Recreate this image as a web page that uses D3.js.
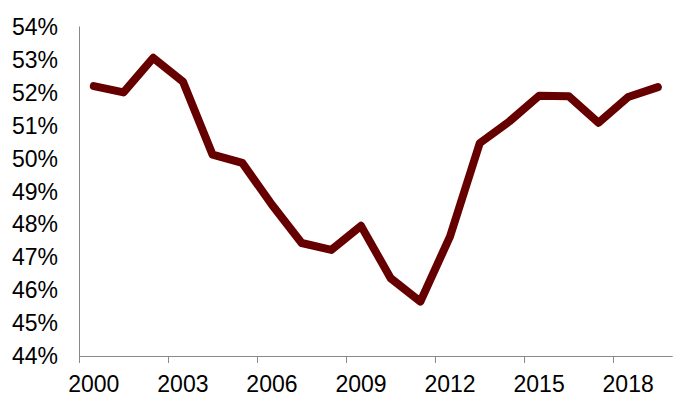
<!DOCTYPE html>
<html>
<head>
<meta charset="utf-8">
<script src="https://cdn.jsdelivr.net/npm/d3@7"></script>
<style>
  html, body { margin: 0; padding: 0; background: #fff; }
  svg { display: block; }
  text { font-family: "Liberation Sans", Arial, sans-serif; fill: #000; }
</style>
</head>
<body>
<svg id="chart" width="685" height="407"></svg>
<script>
const years = ["2000","2001","2002","2003","2004","2005","2006","2007","2008","2009",
               "2010","2011","2012","2013","2014","2015","2016","2017","2018","2019"];
const values = [52.19, 52.00, 53.05, 52.33, 50.11, 49.86, 48.59, 47.43, 47.22, 47.95,
                46.36, 45.65, 47.63, 50.46, 51.12, 51.90, 51.88, 51.08, 51.86, 52.16];
const yTicks = [44, 45, 46, 47, 48, 49, 50, 51, 52, 53, 54];
const xLabelYears = ["2000","2003","2006","2009","2012","2015","2018"];

(function () {
const svg = d3.select("#chart");
const mLeft = 79, mRight = 672.7, mTop = 26.5, mBottom = 356;

const x = d3.scaleBand().domain(years).range([mLeft, mRight]).padding(0);
const y = d3.scaleLinear().domain([44, 54]).range([mBottom, mTop]);

const axisColor = "#898989";

// y axis line
svg.append("line")
  .attr("x1", mLeft + 0.5).attr("x2", mLeft + 0.5)
  .attr("y1", mTop).attr("y2", mBottom + 7)
  .attr("stroke", axisColor).attr("stroke-width", 1);

// x axis line
svg.append("line")
  .attr("x1", mLeft).attr("x2", mRight)
  .attr("y1", mBottom + 0.5).attr("y2", mBottom + 0.5)
  .attr("stroke", axisColor).attr("stroke-width", 1);

// x tick marks at band boundaries every 3 categories
svg.selectAll(".xtick")
  .data(xLabelYears)
  .enter().append("line")
  .attr("x1", d => Math.round(x(d)) + 0.5)
  .attr("x2", d => Math.round(x(d)) + 0.5)
  .attr("y1", mBottom).attr("y2", mBottom + 7)
  .attr("stroke", axisColor).attr("stroke-width", 1);

// x labels
svg.selectAll(".xlabel")
  .data(xLabelYears)
  .enter().append("text")
  .attr("x", d => x(d) + x.bandwidth() / 2)
  .attr("y", 392)
  .attr("text-anchor", "middle")
  .attr("font-size", "23px")
  .text(d => d);

// y labels
svg.selectAll(".ylabel")
  .data(yTicks)
  .enter().append("text")
  .attr("x", 58)
  .attr("y", d => y(d))
  .attr("dy", "0.36em")
  .attr("text-anchor", "end")
  .attr("font-size", "23px")
  .text(d => d + "%");

// line
const line = d3.line()
  .x((d, i) => x(years[i]) + x.bandwidth() / 2)
  .y(d => y(d));

svg.append("path")
  .datum(values)
  .attr("d", line)
  .attr("fill", "none")
  .attr("stroke", "#660000")
  .attr("stroke-width", 8)
  .attr("stroke-linejoin", "round")
  .attr("stroke-linecap", "round");
})();
</script>
</body>
</html>
